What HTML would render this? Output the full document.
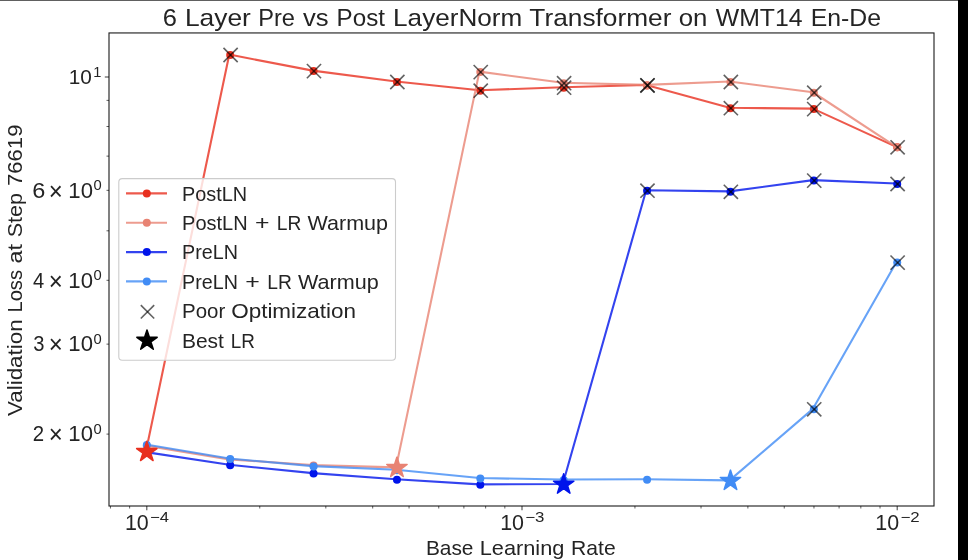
<!DOCTYPE html>
<html><head><meta charset="utf-8"><style>
html,body{margin:0;padding:0;background:#fff;}
body{width:968px;height:560px;overflow:hidden;position:relative;}
svg{position:absolute;left:0;top:0;will-change:transform;}
text{font-family:"Liberation Sans",sans-serif;fill:#242424;}
</style></head><body>
<svg width="968" height="560" viewBox="0 0 968 560">
<rect x="0" y="0" width="968" height="560" fill="#fff"/>
<rect x="0" y="0" width="958" height="1" fill="#606060"/>
<rect x="958" y="0" width="10" height="560" fill="#000"/>
<g>
<path d="M145.90,451.45 L229.28,54.55 L312.66,70.65 L396.04,81.55 L479.42,90.25 L562.80,87.25 L646.18,85.05 L729.56,107.75 L812.94,108.65 L896.32,146.85" fill="none" stroke="#e8301f" stroke-opacity="0.8" stroke-width="2.1" stroke-linejoin="round" stroke-linecap="butt"/>
<circle cx="230.18" cy="55.00" r="4.0" fill="#e8301f"/>
<circle cx="313.56" cy="71.10" r="4.0" fill="#e8301f"/>
<circle cx="396.94" cy="82.00" r="4.0" fill="#e8301f"/>
<circle cx="480.32" cy="90.70" r="4.0" fill="#e8301f"/>
<circle cx="563.70" cy="87.70" r="4.0" fill="#e8301f"/>
<circle cx="647.08" cy="85.50" r="4.0" fill="#e8301f"/>
<circle cx="730.46" cy="108.20" r="4.0" fill="#e8301f"/>
<circle cx="813.84" cy="109.10" r="4.0" fill="#e8301f"/>
<circle cx="897.22" cy="147.30" r="4.0" fill="#e8301f"/>
<path d="M145.90,445.65 L229.28,459.35 L312.66,465.15 L396.04,467.35 L479.42,71.65 L562.80,82.75 L646.18,84.85 L729.56,81.55 L812.94,92.25 L896.32,146.85" fill="none" stroke="#e88373" stroke-opacity="0.8" stroke-width="2.1" stroke-linejoin="round" stroke-linecap="butt"/>
<circle cx="146.80" cy="446.10" r="4.0" fill="#e88373"/>
<circle cx="230.18" cy="459.80" r="4.0" fill="#e88373"/>
<circle cx="313.56" cy="465.60" r="4.0" fill="#e88373"/>
<circle cx="480.32" cy="72.10" r="4.0" fill="#e88373"/>
<circle cx="563.70" cy="83.20" r="4.0" fill="#e88373"/>
<circle cx="647.08" cy="85.30" r="4.0" fill="#e88373"/>
<circle cx="730.46" cy="82.00" r="4.0" fill="#e88373"/>
<circle cx="813.84" cy="92.70" r="4.0" fill="#e88373"/>
<circle cx="897.22" cy="147.30" r="4.0" fill="#e88373"/>
<path d="M145.90,452.15 L229.28,464.75 L312.66,473.15 L396.04,479.25 L479.42,484.35 L562.80,484.05 L646.18,190.25 L729.56,191.35 L812.94,180.15 L896.32,183.55" fill="none" stroke="#0014eb" stroke-opacity="0.8" stroke-width="2.1" stroke-linejoin="round" stroke-linecap="butt"/>
<circle cx="146.80" cy="452.60" r="4.0" fill="#0014eb"/>
<circle cx="230.18" cy="465.20" r="4.0" fill="#0014eb"/>
<circle cx="313.56" cy="473.60" r="4.0" fill="#0014eb"/>
<circle cx="396.94" cy="479.70" r="4.0" fill="#0014eb"/>
<circle cx="480.32" cy="484.80" r="4.0" fill="#0014eb"/>
<circle cx="647.08" cy="190.70" r="4.0" fill="#0014eb"/>
<circle cx="730.46" cy="191.80" r="4.0" fill="#0014eb"/>
<circle cx="813.84" cy="180.60" r="4.0" fill="#0014eb"/>
<circle cx="897.22" cy="184.00" r="4.0" fill="#0014eb"/>
<path d="M145.90,444.55 L229.28,458.55 L312.66,466.15 L396.04,469.75 L479.42,478.05 L562.80,479.55 L646.18,479.25 L729.56,480.35 L812.94,408.85 L896.32,262.15" fill="none" stroke="#418cf5" stroke-opacity="0.8" stroke-width="2.1" stroke-linejoin="round" stroke-linecap="butt"/>
<circle cx="146.80" cy="445.00" r="4.0" fill="#418cf5"/>
<circle cx="230.18" cy="459.00" r="4.0" fill="#418cf5"/>
<circle cx="313.56" cy="466.60" r="4.0" fill="#418cf5"/>
<circle cx="396.94" cy="470.20" r="4.0" fill="#418cf5"/>
<circle cx="480.32" cy="478.50" r="4.0" fill="#418cf5"/>
<circle cx="563.70" cy="480.00" r="4.0" fill="#418cf5"/>
<circle cx="647.08" cy="479.70" r="4.0" fill="#418cf5"/>
<circle cx="813.84" cy="409.30" r="4.0" fill="#418cf5"/>
<circle cx="897.22" cy="262.60" r="4.0" fill="#418cf5"/>
<path d="M146.80,441.20 L144.40,448.59 L136.62,448.59 L142.91,453.16 L140.51,460.56 L146.80,455.99 L153.09,460.56 L150.69,453.16 L156.98,448.59 L149.20,448.59 Z" fill="#e8301f" stroke="#e8301f" stroke-width="1.5" stroke-linejoin="round"/>
<path d="M396.94,457.10 L394.54,464.49 L386.76,464.49 L393.05,469.06 L390.65,476.46 L396.94,471.89 L403.23,476.46 L400.83,469.06 L407.12,464.49 L399.34,464.49 Z" fill="#e88373" stroke="#e88373" stroke-width="1.5" stroke-linejoin="round"/>
<path d="M563.70,473.80 L561.30,481.19 L553.52,481.19 L559.81,485.76 L557.41,493.16 L563.70,488.59 L569.99,493.16 L567.59,485.76 L573.88,481.19 L566.10,481.19 Z" fill="#0014eb" stroke="#0014eb" stroke-width="1.5" stroke-linejoin="round"/>
<path d="M730.46,470.10 L728.06,477.49 L720.28,477.49 L726.57,482.06 L724.17,489.46 L730.46,484.89 L736.75,489.46 L734.35,482.06 L740.64,477.49 L732.86,477.49 Z" fill="#418cf5" stroke="#418cf5" stroke-width="1.5" stroke-linejoin="round"/>
<line x1="223.48" y1="47.90" x2="237.68" y2="62.10" stroke="#000" stroke-opacity="0.62" stroke-width="1.6"/><line x1="223.48" y1="62.10" x2="237.68" y2="47.90" stroke="#000" stroke-opacity="0.62" stroke-width="1.6"/>
<line x1="306.86" y1="64.00" x2="321.06" y2="78.20" stroke="#000" stroke-opacity="0.62" stroke-width="1.6"/><line x1="306.86" y1="78.20" x2="321.06" y2="64.00" stroke="#000" stroke-opacity="0.62" stroke-width="1.6"/>
<line x1="390.24" y1="74.90" x2="404.44" y2="89.10" stroke="#000" stroke-opacity="0.62" stroke-width="1.6"/><line x1="390.24" y1="89.10" x2="404.44" y2="74.90" stroke="#000" stroke-opacity="0.62" stroke-width="1.6"/>
<line x1="473.62" y1="83.60" x2="487.82" y2="97.80" stroke="#000" stroke-opacity="0.62" stroke-width="1.6"/><line x1="473.62" y1="97.80" x2="487.82" y2="83.60" stroke="#000" stroke-opacity="0.62" stroke-width="1.6"/>
<line x1="557.00" y1="80.60" x2="571.20" y2="94.80" stroke="#000" stroke-opacity="0.62" stroke-width="1.6"/><line x1="557.00" y1="94.80" x2="571.20" y2="80.60" stroke="#000" stroke-opacity="0.62" stroke-width="1.6"/>
<line x1="640.38" y1="78.40" x2="654.58" y2="92.60" stroke="#000" stroke-opacity="0.62" stroke-width="1.6"/><line x1="640.38" y1="92.60" x2="654.58" y2="78.40" stroke="#000" stroke-opacity="0.62" stroke-width="1.6"/>
<line x1="723.76" y1="101.10" x2="737.96" y2="115.30" stroke="#000" stroke-opacity="0.62" stroke-width="1.6"/><line x1="723.76" y1="115.30" x2="737.96" y2="101.10" stroke="#000" stroke-opacity="0.62" stroke-width="1.6"/>
<line x1="807.14" y1="102.00" x2="821.34" y2="116.20" stroke="#000" stroke-opacity="0.62" stroke-width="1.6"/><line x1="807.14" y1="116.20" x2="821.34" y2="102.00" stroke="#000" stroke-opacity="0.62" stroke-width="1.6"/>
<line x1="473.62" y1="65.00" x2="487.82" y2="79.20" stroke="#000" stroke-opacity="0.62" stroke-width="1.6"/><line x1="473.62" y1="79.20" x2="487.82" y2="65.00" stroke="#000" stroke-opacity="0.62" stroke-width="1.6"/>
<line x1="557.00" y1="76.10" x2="571.20" y2="90.30" stroke="#000" stroke-opacity="0.62" stroke-width="1.6"/><line x1="557.00" y1="90.30" x2="571.20" y2="76.10" stroke="#000" stroke-opacity="0.62" stroke-width="1.6"/>
<line x1="640.38" y1="78.20" x2="654.58" y2="92.40" stroke="#000" stroke-opacity="0.62" stroke-width="1.6"/><line x1="640.38" y1="92.40" x2="654.58" y2="78.20" stroke="#000" stroke-opacity="0.62" stroke-width="1.6"/>
<line x1="723.76" y1="74.90" x2="737.96" y2="89.10" stroke="#000" stroke-opacity="0.62" stroke-width="1.6"/><line x1="723.76" y1="89.10" x2="737.96" y2="74.90" stroke="#000" stroke-opacity="0.62" stroke-width="1.6"/>
<line x1="807.14" y1="85.60" x2="821.34" y2="99.80" stroke="#000" stroke-opacity="0.62" stroke-width="1.6"/><line x1="807.14" y1="99.80" x2="821.34" y2="85.60" stroke="#000" stroke-opacity="0.62" stroke-width="1.6"/>
<line x1="890.52" y1="140.20" x2="904.72" y2="154.40" stroke="#000" stroke-opacity="0.62" stroke-width="1.6"/><line x1="890.52" y1="154.40" x2="904.72" y2="140.20" stroke="#000" stroke-opacity="0.62" stroke-width="1.6"/>
<line x1="640.38" y1="183.60" x2="654.58" y2="197.80" stroke="#000" stroke-opacity="0.62" stroke-width="1.6"/><line x1="640.38" y1="197.80" x2="654.58" y2="183.60" stroke="#000" stroke-opacity="0.62" stroke-width="1.6"/>
<line x1="723.76" y1="184.70" x2="737.96" y2="198.90" stroke="#000" stroke-opacity="0.62" stroke-width="1.6"/><line x1="723.76" y1="198.90" x2="737.96" y2="184.70" stroke="#000" stroke-opacity="0.62" stroke-width="1.6"/>
<line x1="807.14" y1="173.50" x2="821.34" y2="187.70" stroke="#000" stroke-opacity="0.62" stroke-width="1.6"/><line x1="807.14" y1="187.70" x2="821.34" y2="173.50" stroke="#000" stroke-opacity="0.62" stroke-width="1.6"/>
<line x1="890.52" y1="176.90" x2="904.72" y2="191.10" stroke="#000" stroke-opacity="0.62" stroke-width="1.6"/><line x1="890.52" y1="191.10" x2="904.72" y2="176.90" stroke="#000" stroke-opacity="0.62" stroke-width="1.6"/>
<line x1="807.14" y1="402.20" x2="821.34" y2="416.40" stroke="#000" stroke-opacity="0.62" stroke-width="1.6"/><line x1="807.14" y1="416.40" x2="821.34" y2="402.20" stroke="#000" stroke-opacity="0.62" stroke-width="1.6"/>
<line x1="890.52" y1="255.50" x2="904.72" y2="269.70" stroke="#000" stroke-opacity="0.62" stroke-width="1.6"/><line x1="890.52" y1="269.70" x2="904.72" y2="255.50" stroke="#000" stroke-opacity="0.62" stroke-width="1.6"/>
</g>
<rect x="109.0" y="32.95" width="825.0" height="473.05" fill="none" stroke="#000" stroke-opacity="0.9" stroke-width="1.1"/>
<line x1="146.80" y1="506.0" x2="146.80" y2="510.2" stroke="#000" stroke-opacity="0.7" stroke-width="1.1"/>
<line x1="522.00" y1="506.0" x2="522.00" y2="510.2" stroke="#000" stroke-opacity="0.7" stroke-width="1.1"/>
<line x1="897.20" y1="506.0" x2="897.20" y2="510.2" stroke="#000" stroke-opacity="0.7" stroke-width="1.1"/>
<line x1="110.44" y1="506.0" x2="110.44" y2="508.5" stroke="#000" stroke-opacity="0.7" stroke-width="0.9"/>
<line x1="129.63" y1="506.0" x2="129.63" y2="508.5" stroke="#000" stroke-opacity="0.7" stroke-width="0.9"/>
<line x1="259.75" y1="506.0" x2="259.75" y2="508.5" stroke="#000" stroke-opacity="0.7" stroke-width="0.9"/>
<line x1="325.82" y1="506.0" x2="325.82" y2="508.5" stroke="#000" stroke-opacity="0.7" stroke-width="0.9"/>
<line x1="372.69" y1="506.0" x2="372.69" y2="508.5" stroke="#000" stroke-opacity="0.7" stroke-width="0.9"/>
<line x1="409.05" y1="506.0" x2="409.05" y2="508.5" stroke="#000" stroke-opacity="0.7" stroke-width="0.9"/>
<line x1="438.76" y1="506.0" x2="438.76" y2="508.5" stroke="#000" stroke-opacity="0.7" stroke-width="0.9"/>
<line x1="463.88" y1="506.0" x2="463.88" y2="508.5" stroke="#000" stroke-opacity="0.7" stroke-width="0.9"/>
<line x1="485.64" y1="506.0" x2="485.64" y2="508.5" stroke="#000" stroke-opacity="0.7" stroke-width="0.9"/>
<line x1="504.83" y1="506.0" x2="504.83" y2="508.5" stroke="#000" stroke-opacity="0.7" stroke-width="0.9"/>
<line x1="634.95" y1="506.0" x2="634.95" y2="508.5" stroke="#000" stroke-opacity="0.7" stroke-width="0.9"/>
<line x1="701.02" y1="506.0" x2="701.02" y2="508.5" stroke="#000" stroke-opacity="0.7" stroke-width="0.9"/>
<line x1="747.89" y1="506.0" x2="747.89" y2="508.5" stroke="#000" stroke-opacity="0.7" stroke-width="0.9"/>
<line x1="784.25" y1="506.0" x2="784.25" y2="508.5" stroke="#000" stroke-opacity="0.7" stroke-width="0.9"/>
<line x1="813.96" y1="506.0" x2="813.96" y2="508.5" stroke="#000" stroke-opacity="0.7" stroke-width="0.9"/>
<line x1="839.08" y1="506.0" x2="839.08" y2="508.5" stroke="#000" stroke-opacity="0.7" stroke-width="0.9"/>
<line x1="860.84" y1="506.0" x2="860.84" y2="508.5" stroke="#000" stroke-opacity="0.7" stroke-width="0.9"/>
<line x1="880.03" y1="506.0" x2="880.03" y2="508.5" stroke="#000" stroke-opacity="0.7" stroke-width="0.9"/>
<line x1="109.0" y1="77.0" x2="104.8" y2="77.0" stroke="#000" stroke-opacity="0.7" stroke-width="1.1"/>
<line x1="109.0" y1="434.10" x2="106.5" y2="434.10" stroke="#000" stroke-opacity="0.7" stroke-width="0.9"/>
<line x1="109.0" y1="344.14" x2="106.5" y2="344.14" stroke="#000" stroke-opacity="0.7" stroke-width="0.9"/>
<line x1="109.0" y1="280.31" x2="106.5" y2="280.31" stroke="#000" stroke-opacity="0.7" stroke-width="0.9"/>
<line x1="109.0" y1="230.80" x2="106.5" y2="230.80" stroke="#000" stroke-opacity="0.7" stroke-width="0.9"/>
<line x1="109.0" y1="190.34" x2="106.5" y2="190.34" stroke="#000" stroke-opacity="0.7" stroke-width="0.9"/>
<line x1="109.0" y1="156.14" x2="106.5" y2="156.14" stroke="#000" stroke-opacity="0.7" stroke-width="0.9"/>
<line x1="109.0" y1="126.51" x2="106.5" y2="126.51" stroke="#000" stroke-opacity="0.7" stroke-width="0.9"/>
<line x1="109.0" y1="100.38" x2="106.5" y2="100.38" stroke="#000" stroke-opacity="0.7" stroke-width="0.9"/>
<!-- legend -->
<rect x="118.8" y="178.6" width="276.7" height="181.6" rx="3.5" fill="#fff" fill-opacity="0.8" stroke="#cccccc" stroke-width="1.1"/>
<line x1="126.0" y1="193.40" x2="167.0" y2="193.40" stroke="#e8301f" stroke-opacity="0.8" stroke-width="2.1"/>
<circle cx="146.8" cy="193.40" r="4.0" fill="#e8301f"/>
<line x1="126.0" y1="222.74" x2="167.0" y2="222.74" stroke="#e88373" stroke-opacity="0.8" stroke-width="2.1"/>
<circle cx="146.8" cy="222.74" r="4.0" fill="#e88373"/>
<line x1="126.0" y1="252.08" x2="167.0" y2="252.08" stroke="#0014eb" stroke-opacity="0.8" stroke-width="2.1"/>
<circle cx="146.8" cy="252.08" r="4.0" fill="#0014eb"/>
<line x1="126.0" y1="281.42" x2="167.0" y2="281.42" stroke="#418cf5" stroke-opacity="0.8" stroke-width="2.1"/>
<circle cx="146.8" cy="281.42" r="4.0" fill="#418cf5"/>
<line x1="140.80" y1="305.10" x2="154.20" y2="318.50" stroke="#000" stroke-opacity="0.62" stroke-width="1.6"/><line x1="140.80" y1="318.50" x2="154.20" y2="305.10" stroke="#000" stroke-opacity="0.62" stroke-width="1.6"/>
<path d="M147.00,329.90 L144.60,337.29 L136.82,337.29 L143.11,341.86 L140.71,349.26 L147.00,344.69 L153.29,349.26 L150.89,341.86 L157.18,337.29 L149.40,337.29 Z" fill="#000" stroke="#000" stroke-width="1.5" stroke-linejoin="round"/>
<!-- texts -->
<text x="162.71" y="25.60" font-size="24.8" textLength="14.19" lengthAdjust="spacingAndGlyphs">6</text>
<text x="184.96" y="25.60" font-size="24.8" textLength="65.91" lengthAdjust="spacingAndGlyphs">Layer</text>
<text x="258.18" y="25.60" font-size="24.8" textLength="36.75" lengthAdjust="spacingAndGlyphs">Pre</text>
<text x="303.06" y="25.60" font-size="24.8" textLength="25.65" lengthAdjust="spacingAndGlyphs">vs</text>
<text x="336.59" y="25.60" font-size="24.8" textLength="48.38" lengthAdjust="spacingAndGlyphs">Post</text>
<text x="393.08" y="25.60" font-size="24.8" textLength="129.16" lengthAdjust="spacingAndGlyphs">LayerNorm</text>
<text x="529.38" y="25.60" font-size="24.8" textLength="142.00" lengthAdjust="spacingAndGlyphs">Transformer</text>
<text x="678.73" y="25.60" font-size="24.8" textLength="28.68" lengthAdjust="spacingAndGlyphs">on</text>
<text x="715.75" y="25.60" font-size="24.8" textLength="86.72" lengthAdjust="spacingAndGlyphs">WMT14</text>
<text x="810.78" y="25.60" font-size="24.8" textLength="70.27" lengthAdjust="spacingAndGlyphs">En-De</text>
<text x="182.10" y="200.80" font-size="20.4" textLength="65.08" lengthAdjust="spacingAndGlyphs">PostLN</text>
<text x="182.08" y="230.14" font-size="20.4" textLength="65.54" lengthAdjust="spacingAndGlyphs">PostLN</text>
<text x="254.97" y="230.14" font-size="20.4" textLength="14.51" lengthAdjust="spacingAndGlyphs">+</text>
<text x="276.86" y="230.14" font-size="20.4" textLength="24.53" lengthAdjust="spacingAndGlyphs">LR</text>
<text x="307.50" y="230.14" font-size="20.4" textLength="80.54" lengthAdjust="spacingAndGlyphs">Warmup</text>
<text x="182.11" y="259.48" font-size="20.4" textLength="55.89" lengthAdjust="spacingAndGlyphs">PreLN</text>
<text x="182.11" y="288.82" font-size="20.4" textLength="55.78" lengthAdjust="spacingAndGlyphs">PreLN</text>
<text x="245.35" y="288.82" font-size="20.4" textLength="14.54" lengthAdjust="spacingAndGlyphs">+</text>
<text x="267.29" y="288.82" font-size="20.4" textLength="24.59" lengthAdjust="spacingAndGlyphs">LR</text>
<text x="298.00" y="288.82" font-size="20.4" textLength="80.74" lengthAdjust="spacingAndGlyphs">Warmup</text>
<text x="182.04" y="318.16" font-size="20.4" textLength="43.23" lengthAdjust="spacingAndGlyphs">Poor</text>
<text x="231.16" y="318.16" font-size="20.4" textLength="124.91" lengthAdjust="spacingAndGlyphs">Optimization</text>
<text x="182.00" y="347.50" font-size="20.4" textLength="41.91" lengthAdjust="spacingAndGlyphs">Best</text>
<text x="230.65" y="347.50" font-size="20.4" textLength="24.15" lengthAdjust="spacingAndGlyphs">LR</text>
<text x="425.91" y="554.60" font-size="20.4" textLength="47.52" lengthAdjust="spacingAndGlyphs">Base</text>
<text x="479.75" y="554.60" font-size="20.4" textLength="84.65" lengthAdjust="spacingAndGlyphs">Learning</text>
<text x="571.05" y="554.60" font-size="20.4" textLength="44.61" lengthAdjust="spacingAndGlyphs">Rate</text>
<text transform="translate(21.60,416.07) rotate(-90)" x="0" y="0" font-size="20.4" textLength="96.79" lengthAdjust="spacingAndGlyphs">Validation</text>
<text transform="translate(21.60,312.62) rotate(-90)" x="0" y="0" font-size="20.4" textLength="42.72" lengthAdjust="spacingAndGlyphs">Loss</text>
<text transform="translate(21.60,263.50) rotate(-90)" x="0" y="0" font-size="20.4" textLength="19.52" lengthAdjust="spacingAndGlyphs">at</text>
<text transform="translate(21.60,237.33) rotate(-90)" x="0" y="0" font-size="20.4" textLength="44.38" lengthAdjust="spacingAndGlyphs">Step</text>
<text transform="translate(21.60,186.12) rotate(-90)" x="0" y="0" font-size="20.4" textLength="61.56" lengthAdjust="spacingAndGlyphs">76619</text>
<text x="124.95" y="529.60" font-size="21.4" textLength="23.85" lengthAdjust="spacingAndGlyphs">10</text>
<text x="150.03" y="521.80" font-size="14.2" textLength="18.89" lengthAdjust="spacingAndGlyphs">−4</text>
<text x="500.15" y="529.60" font-size="21.4" textLength="23.85" lengthAdjust="spacingAndGlyphs">10</text>
<text x="525.21" y="521.80" font-size="14.2" textLength="19.21" lengthAdjust="spacingAndGlyphs">−3</text>
<text x="875.35" y="529.60" font-size="21.4" textLength="23.85" lengthAdjust="spacingAndGlyphs">10</text>
<text x="900.41" y="521.80" font-size="14.2" textLength="19.21" lengthAdjust="spacingAndGlyphs">−2</text>
<text x="68.72" y="84.00" font-size="20.4" textLength="23.14" lengthAdjust="spacingAndGlyphs">10</text>
<text x="93.28" y="76.80" font-size="14.2" textLength="8.08" lengthAdjust="spacingAndGlyphs">1</text>
<text x="32.39" y="197.64" font-size="21.2" textLength="13.07" lengthAdjust="spacingAndGlyphs">6</text>
<text x="48.81" y="199.69" font-size="24.9" textLength="14.02" lengthAdjust="spacingAndGlyphs">×</text>
<text x="68.33" y="197.64" font-size="21.2" textLength="24.63" lengthAdjust="spacingAndGlyphs">10</text>
<text x="93.58" y="189.74" font-size="14.2" textLength="8.18" lengthAdjust="spacingAndGlyphs">0</text>
<text x="33.03" y="287.61" font-size="21.2" textLength="11.19" lengthAdjust="spacingAndGlyphs">4</text>
<text x="48.81" y="289.66" font-size="24.9" textLength="14.02" lengthAdjust="spacingAndGlyphs">×</text>
<text x="68.33" y="287.61" font-size="21.2" textLength="24.63" lengthAdjust="spacingAndGlyphs">10</text>
<text x="93.58" y="279.71" font-size="14.2" textLength="8.18" lengthAdjust="spacingAndGlyphs">0</text>
<text x="33.29" y="351.44" font-size="21.2" textLength="11.21" lengthAdjust="spacingAndGlyphs">3</text>
<text x="48.81" y="353.49" font-size="24.9" textLength="14.02" lengthAdjust="spacingAndGlyphs">×</text>
<text x="68.33" y="351.44" font-size="21.2" textLength="24.63" lengthAdjust="spacingAndGlyphs">10</text>
<text x="93.58" y="343.54" font-size="14.2" textLength="8.18" lengthAdjust="spacingAndGlyphs">0</text>
<text x="32.84" y="441.40" font-size="21.2" textLength="11.37" lengthAdjust="spacingAndGlyphs">2</text>
<text x="48.81" y="443.45" font-size="24.9" textLength="14.02" lengthAdjust="spacingAndGlyphs">×</text>
<text x="68.33" y="441.40" font-size="21.2" textLength="24.63" lengthAdjust="spacingAndGlyphs">10</text>
<text x="93.58" y="433.50" font-size="14.2" textLength="8.18" lengthAdjust="spacingAndGlyphs">0</text>
</svg>
</body></html>
